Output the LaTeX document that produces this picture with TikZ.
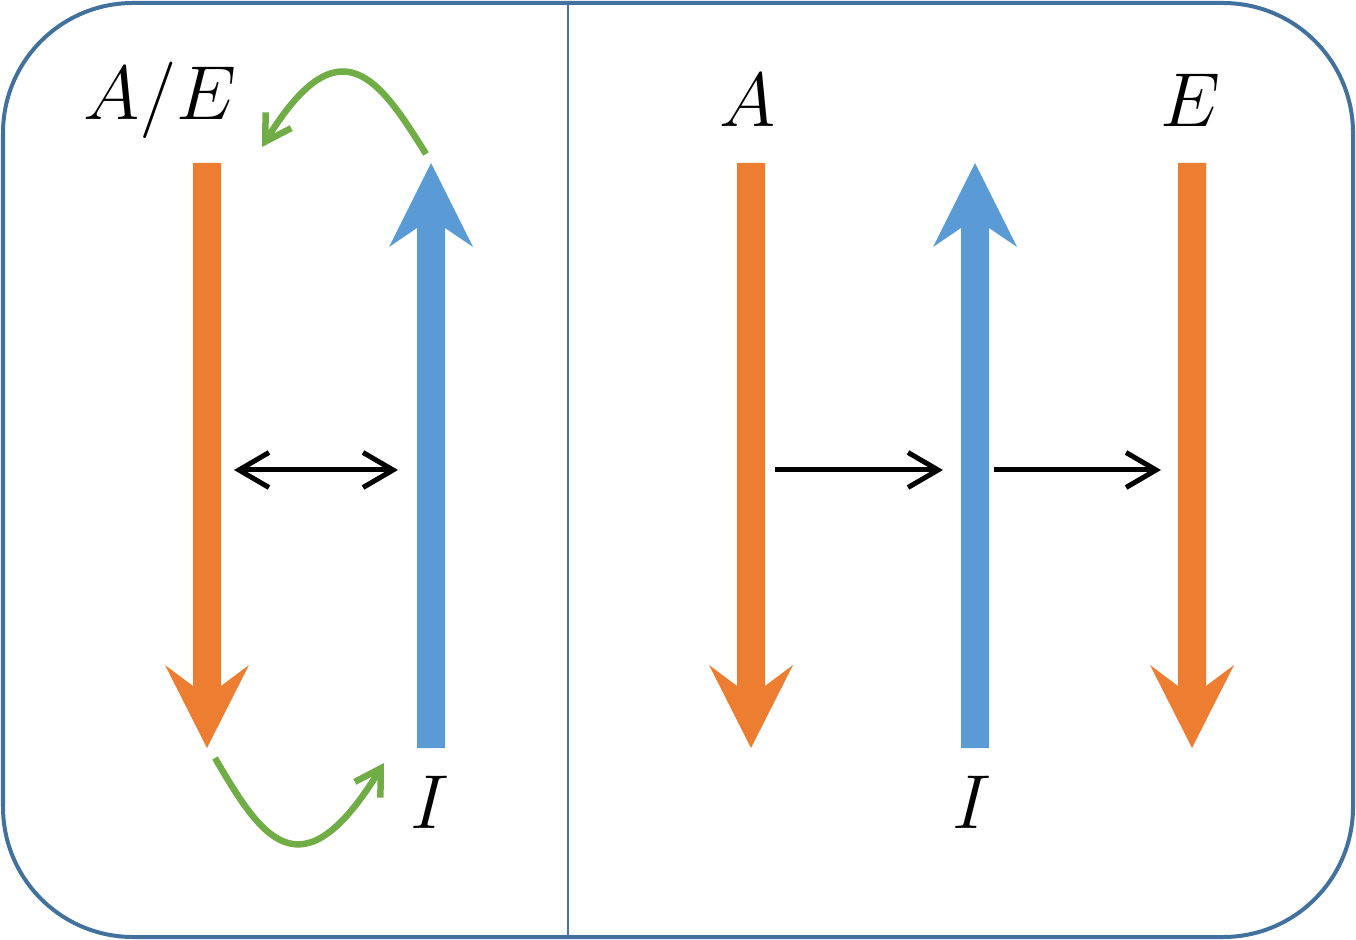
\documentclass[tikz,border=0pt]{standalone}
\usetikzlibrary{arrows.meta}
\definecolor{frameblue}{HTML}{41719C}
\definecolor{lineblue}{HTML}{4472C4}
\definecolor{orng}{HTML}{ED7D31}
\definecolor{blu}{HTML}{5B9BD5}
\definecolor{grn}{HTML}{70AD47}
\tikzset{
 blk/.style={line width=1mm,{Straight Barb[length=6mm,width=7mm]}-{Straight Barb[length=6mm,width=7mm]}},
 blkr/.style={line width=1mm,-{Straight Barb[length=6mm,width=7mm]}},
 gr/.style={grn,line width=1.3mm,-{Straight Barb[length=5mm,width=6mm]}},
 lab/.style={inner sep=0pt}
}
\newcommand{\bigmath}[1]{\scalebox{2.1}{\huge$#1$}}
\newcommand{\downarr}[2]{\fill[#2] (#1-14,163) -- (#1+14,163) -- (#1+14,686) -- (#1+42,665) -- (#1,748) -- (#1-42,665) -- (#1-14,686) -- cycle;}
\newcommand{\uparr}[2]{\fill[#2] (#1-14,748) -- (#1+14,748) -- (#1+14,228) -- (#1+42,247) -- (#1,163) -- (#1-42,247) -- (#1-14,228) -- cycle;}
\begin{document}
\begin{tikzpicture}[x=0.2mm,y=-0.2mm]
\useasboundingbox (0,0) rectangle (1356,940);
\draw[frameblue,line width=0.8mm,rounded corners=26mm] (3,3) rectangle (1353,937);
\draw[lineblue,line width=0.35mm] (568,4) -- (568,936);
\downarr{207}{orng}
\uparr{431}{blu}
\downarr{751}{orng}
\uparr{975}{blu}
\downarr{1192}{orng}
\coordinate (l1) at (234,470); \coordinate (l2) at (398,470);
\draw[blk] (l1) -- (l2);
\coordinate (r1) at (775,470); \coordinate (r2) at (943,470);
\coordinate (r3) at (994,470); \coordinate (r4) at (1161,470);
\draw[blkr] (r1) -- (r2);
\draw[blkr] (r3) -- (r4);
\coordinate (g1) at (426,154); \coordinate (g2) at (262,147);
\draw[gr] (g1) .. controls (380,80) and (340,20) .. (g2);
\coordinate (g3) at (215,758); \coordinate (g4) at (384,763);
\draw[gr] (g3) .. controls (260,835) and (300,900) .. (g4);
\node[lab] (ae) at (160,100) {\bigmath{A/E}};
\node[lab] (a) at (748,100) {\bigmath{A}};
\node[lab] (e) at (1190,100) {\bigmath{E}};
\node[lab] (i1) at (430,802) {\bigmath{I}};
\node[lab] (i2) at (972,802) {\bigmath{I}};
\end{tikzpicture}
\end{document}
